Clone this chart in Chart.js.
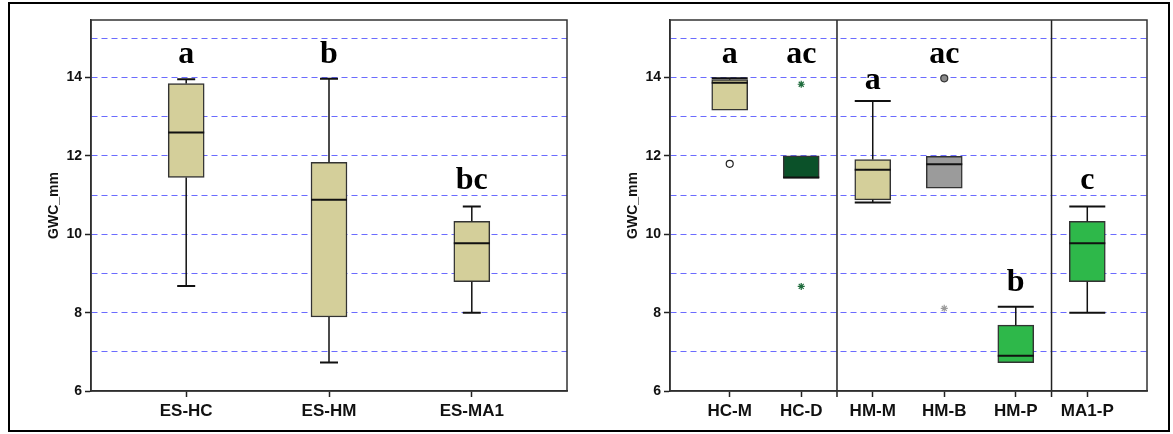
<!DOCTYPE html>
<html>
<head>
<meta charset="utf-8">
<script src="https://cdn.jsdelivr.net/npm/chart.js@4.4.1/dist/chart.umd.min.js"></script>
<style>
  body { margin: 0; background: #fff; }
  #frame { position: absolute; left: 8px; top: 2px; width: 1158px; height: 426px; border: 2px solid #000; }
  .panel { position: absolute; top: 5px; width: 540px; height: 425px; }
</style>
</head>
<body>
<div id="frame"></div>
<div class="panel" style="left:42px"><canvas id="leftChart"></canvas></div>
<div class="panel" style="left:621px"><canvas id="rightChart"></canvas></div>
<script>
// ---- left panel: sites ----
const leftCats = ["ES-HC", "ES-HM", "ES-MA1"];
const leftMin = [8.68, 6.73, 8.0];
const leftQ1 = [11.45, 7.89, 8.79];
const leftMed = [12.6, 10.88, 9.77];
const leftQ3 = [13.85, 11.84, 10.33];
const leftMax = [13.96, 13.97, 10.71];
const leftColors = ["#d4cf9a", "#d4cf9a", "#d4cf9a"];
const leftLetters = ["a", "b", "bc"];
const leftLetterY = [14.37, 14.37, 11.15];

// ---- right panel: site x treatment ----
const rightCats = ["HC-M", "HC-D", "HM-M", "HM-B", "HM-P", "MA1-P"];
const rightMin = [13.17, 11.43, 10.81, 11.18, 6.72, 8.0];
const rightQ1 = [13.17, 11.43, 10.88, 11.18, 6.72, 8.79];
const rightMed = [13.87, 11.45, 11.65, 11.79, 6.9, 9.77];
const rightQ3 = [13.95, 12.0, 11.91, 11.99, 7.68, 10.33];
const rightMax = [13.98, 12.0, 13.4, 11.99, 8.15, 10.71];
const rightColors = ["#d4cf9a", "#0b5129", "#d4cf9a", "#9b9b9b", "#2eb84a", "#2eb84a"];
const rightLetters = ["a", "ac", "a", "ac", "b", "c"];
const rightLetterY = [14.37, 14.37, 13.72, 14.37, 8.54, 11.15];

// outliers (category index, value, symbol)
const rightOutCat = [0, 1, 1, 3, 3];
const rightOutVal = [11.8, 13.83, 8.67, 13.98, 8.11];
const rightOutStyle = ["circle", "star", "star", "circle", "star"];
const rightOutFill = ["#ffffff", "#1e6b3c", "#1e6b3c", "#8a8a8a", "#9a9a9a"];
const rightOutLine = ["#222222", "#1e6b3c", "#1e6b3c", "#333333", "#9a9a9a"];

const rightDividers = [1.5, 4.5];

const yTicks = [6, 7, 8, 9, 10, 11, 12, 13, 14, 15];

// whiskers, medians, letters, group dividers, plot frame
const boxPlugin = {
  id: "boxExtras",
  afterDatasetsDraw(chart, args, o) {
    const { ctx, chartArea } = chart;
    const x = chart.scales.x, y = chart.scales.y;
    const half = 18;
    ctx.save();
    ctx.strokeStyle = "#111";
    o.cats.forEach((c, i) => {
      const px = x.getPixelForValue(i);
      ctx.lineWidth = 1.5;
      ctx.beginPath();
      ctx.moveTo(px, y.getPixelForValue(o.max[i]));
      ctx.lineTo(px, y.getPixelForValue(o.q3[i]));
      ctx.moveTo(px, y.getPixelForValue(o.q1[i]));
      ctx.lineTo(px, y.getPixelForValue(o.min[i]));
      ctx.stroke();
      // caps
      ctx.lineWidth = 2;
      ctx.beginPath();
      if (o.max[i] > o.q3[i]) {
        ctx.moveTo(px - o.cap, y.getPixelForValue(o.max[i]));
        ctx.lineTo(px + o.cap, y.getPixelForValue(o.max[i]));
      }
      if (o.min[i] < o.q1[i]) {
        ctx.moveTo(px - o.cap, y.getPixelForValue(o.min[i]));
        ctx.lineTo(px + o.cap, y.getPixelForValue(o.min[i]));
      }
      ctx.stroke();
      // median
      ctx.lineWidth = 2;
      ctx.beginPath();
      ctx.moveTo(px - half, y.getPixelForValue(o.med[i]));
      ctx.lineTo(px + half, y.getPixelForValue(o.med[i]));
      ctx.stroke();
      // letters
      ctx.fillStyle = "#000";
      ctx.font = 'bold 32px "Liberation Serif", "Times New Roman", serif';
      ctx.textAlign = "center";
      ctx.textBaseline = "alphabetic";
      ctx.fillText(o.letters[i], px, y.getPixelForValue(o.letterY[i]));
    });
    // dividers
    ctx.lineWidth = 1.5;
    ctx.strokeStyle = "#222";
    (o.dividers || []).forEach(d => {
      const px = x.getPixelForValue(d);
      ctx.beginPath();
      ctx.moveTo(px, chartArea.top);
      ctx.lineTo(px, chartArea.bottom + 6);
      ctx.stroke();
    });
    // frame
    ctx.strokeStyle = "#333";
    ctx.strokeRect(chartArea.left, chartArea.top, chartArea.right - chartArea.left, chartArea.bottom - chartArea.top);
    ctx.restore();
  }
};

function boxChart(canvasId, o) {
  const datasets = [{
    type: "bar",
    data: o.cats.map((c, i) => ({ x: i, y: [o.q1[i], o.q3[i]] })),
    backgroundColor: o.colors,
    borderColor: "#333",
    borderWidth: 1.5,
    borderSkipped: false,
    barThickness: 36,
    order: 2
  }];
  if (o.outCat) {
    datasets.push({
      type: "scatter",
      data: o.outCat.map((c, i) => ({ x: c, y: o.outVal[i] })),
      pointStyle: o.outStyle,
      pointRadius: 3.5,
      backgroundColor: o.outFill,
      borderColor: o.outLine,
      borderWidth: 1.2,
      order: 1
    });
  }

  return new Chart(document.getElementById(canvasId), {
    type: "bar",
    data: { datasets },
    plugins: [boxPlugin],
    options: {
      responsive: true,
      maintainAspectRatio: false,
      animation: false,
      layout: { padding: { top: 15, right: o.padRight, bottom: 0, left: 0 } },
      plugins: {
        legend: { display: false },
        tooltip: { enabled: false },
        boxExtras: o
      },
      scales: {
        x: {
          type: "linear",
          offset: false,
          min: o.xMin,
          max: o.xMax,
          afterBuildTicks: s => { s.ticks = o.cats.map((c, i) => ({ value: i })); },
          afterFit: s => { s.height = 39; },
          ticks: {
            callback: v => o.cats[v],
            autoSkip: false,
            maxRotation: 0,
            padding: 4,
            color: "#111",
            font: { family: '"Liberation Sans", Arial, sans-serif', weight: "bold", size: 17 }
          },
          grid: { offset: false, drawOnChartArea: false, tickLength: 6, tickColor: "#222", tickWidth: 1.5 },
          border: { color: "#222", width: 1.5 }
        },
        y: {
          min: 6,
          max: 15.47,
          afterBuildTicks: s => { s.ticks = yTicks.map(v => ({ value: v })); },
          afterFit: s => { s.width = 49; },
          ticks: {
            callback: v => (v % 2 === 0 ? v : ""),
            padding: 3,
            color: "#111",
            font: { family: '"Liberation Sans", Arial, sans-serif', weight: "bold", size: 14 }
          },
          grid: {
            color: ctx => (ctx.tick && ctx.tick.value === 6 ? "rgba(0,0,0,0)" : "#6b6bff"),
            lineWidth: 1,
            tickLength: 6,
            tickWidth: 1.5,
            tickColor: ctx => (ctx.tick && ctx.tick.value % 2 === 0 ? "#222" : "rgba(0,0,0,0)")
          },
          border: { color: "#222", width: 1.5, dash: [6, 4] },
          title: {
            display: true,
            text: "GWC_mm",
            color: "#111",
            font: { family: '"Liberation Sans", Arial, sans-serif', weight: "bold", size: 14 }
          }
        }
      }
    }
  });
}

boxChart("leftChart", {
  cats: leftCats, min: leftMin, q1: leftQ1, med: leftMed, q3: leftQ3, max: leftMax,
  colors: leftColors, letters: leftLetters, letterY: leftLetterY,
  xMin: -2 / 3, xMax: 8 / 3, cap: 9, padRight: 15
});

boxChart("rightChart", {
  cats: rightCats, min: rightMin, q1: rightQ1, med: rightMed, q3: rightQ3, max: rightMax,
  colors: rightColors, letters: rightLetters, letterY: rightLetterY,
  outCat: rightOutCat, outVal: rightOutVal, outStyle: rightOutStyle,
  outFill: rightOutFill, outLine: rightOutLine,
  dividers: rightDividers,
  xMin: -0.835, xMax: 5.835, cap: 18, padRight: 14
});
</script>
</body>
</html>
